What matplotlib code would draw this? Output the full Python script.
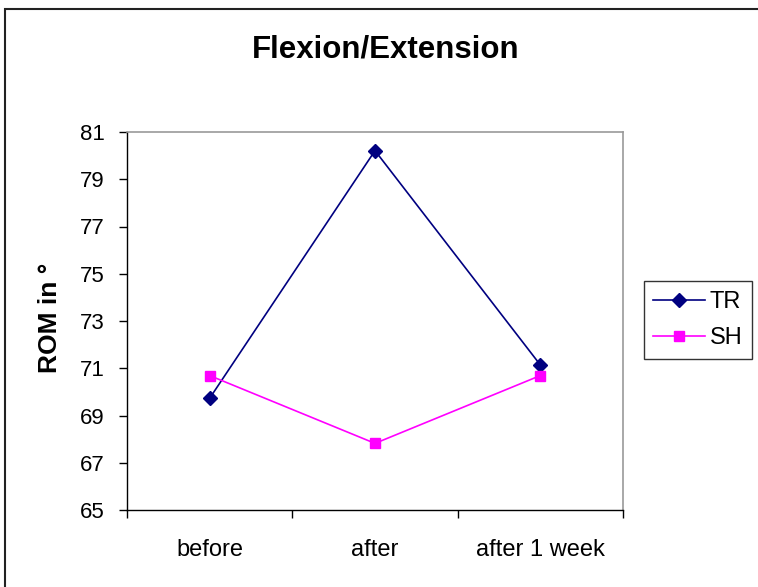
import matplotlib
matplotlib.use("Agg")
import matplotlib.pyplot as plt
from matplotlib.patches import Rectangle

plt.rcParams['font.family'] = ['Liberation Sans', 'DejaVu Sans']

categories = ["before", "after", "after 1 week"]
tr_values = [69.73, 80.21, 71.14]
sh_values = [70.69, 67.82, 70.69]
yticks = [65, 67, 69, 71, 73, 75, 77, 79, 81]

W, H = 758, 587
fig = plt.figure(figsize=(W/100, H/100), dpi=100)

# outer chart frame (only left/top visible in reference)
fig.patches.append(Rectangle((5/W, -0.1), 1.2, 1 - 9/H + 0.1, transform=fig.transFigure,
                             fill=False, edgecolor='#222222', linewidth=1.5, figure=fig))

ax = fig.add_axes([127/W, 1 - 510/H, (623-127)/W, (510-132)/H])
x = list(range(len(categories)))
ax.plot(x, tr_values, color='#000080', marker='D', markersize=7, linewidth=1.2, label='TR')
ax.plot(x, sh_values, color='#FF00FF', marker='s', markersize=7.5, linewidth=1.2, label='SH')

ax.set_xlim(-0.5, 2.5)
ax.set_ylim(65, 81)
ax.set_yticks(yticks)
ax.set_yticklabels([str(v) for v in yticks], fontsize=16)
ax.set_xticks(x)
ax.set_xticklabels(categories, fontsize=17)
ax.tick_params(axis='x', length=0, pad=21)
ax.set_xticks([-0.5, 0.5, 1.5, 2.5], minor=True)
ax.tick_params(axis='x', which='minor', length=6, width=1, color='black', direction='out')
ax.tick_params(axis='y', length=6, width=1, direction='out', pad=10)

for s in ['top', 'right']:
    ax.spines[s].set_color('#999999')
    ax.spines[s].set_linewidth(1.2)
for s in ['left', 'bottom']:
    ax.spines[s].set_color('black')
    ax.spines[s].set_linewidth(1.0)

ax.set_ylabel("ROM in °", fontsize=19, fontweight='bold')
ax.yaxis.set_label_coords((62-127)/(623-127), (510-318)/(510-132))
fig.text(386/W, 1 - 50/H, "Flexion/Extension", fontsize=22.5, fontweight='bold',
         ha='center', va='center')

leg = ax.legend(loc='center', bbox_to_anchor=(698/W, 1 - 320/H),
                bbox_transform=fig.transFigure, fontsize=17, frameon=True, fancybox=False,
                borderpad=0.4, handlelength=2.2, handletextpad=0.2, labelspacing=0.6,
                borderaxespad=0)
leg.get_frame().set_edgecolor('black')
leg.get_frame().set_linewidth(1.0)

fig.savefig("out.png", dpi=100)
